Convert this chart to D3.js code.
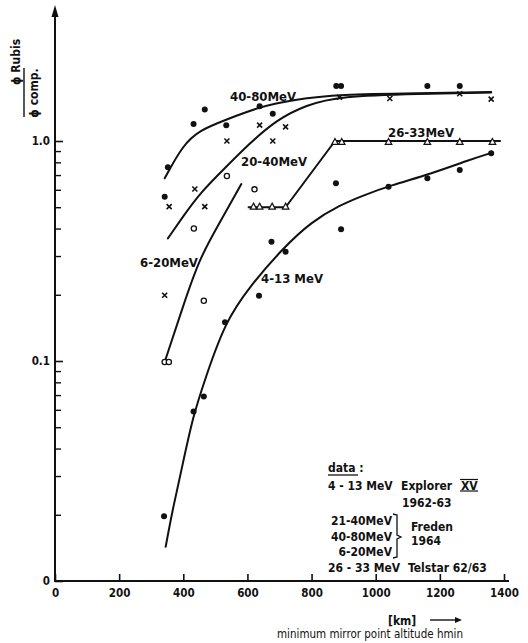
<!DOCTYPE html>
<html>
<head>
<meta charset="utf-8">
<script src="https://cdn.jsdelivr.net/npm/d3@7"></script>
<style>
  body { margin: 0; background: #fff; }
  svg text { font-family: "DejaVu Sans Condensed", "DejaVu Sans", sans-serif; fill: #111; }
</style>
</head>
<body>
<svg id="chart" width="528" height="643"></svg>
<script>
// axis ticks
let xTicks = [0, 200, 400, 600, 800, 1000, 1200, 1400];
let yTickValues = [0.01, 0.1, 1];
let yTickText = ["0", "0.1", "1.0"];

// measured points (altitude km, ratio)
let dots4080 = [[342,0.558],[352,0.76],[432,1.195],[467,1.39],[534,1.18],[638,1.44],[679,1.33],[877,1.78],[892,1.78],[1161,1.78],[1262,1.78]];
let dots413 = [[340,0.0197],[432,0.059],[464,0.069],[530,0.150],[636,0.198],[675,0.348],[719,0.314],[876,0.642],[892,0.397],[1040,0.62],[1161,0.677],[1262,0.738],[1360,0.88]];
let crosses2040 = [[342,0.199],[356,0.503],[436,0.605],[467,0.503],[536,1.0],[638,1.18],[679,1.0],[719,1.16],[887,1.58],[1044,1.56],[1262,1.64],[1360,1.55]];
let circles620 = [[342,0.099],[355,0.099],[433,0.40],[464,0.188],[536,0.693],[622,0.603]];
let triangles2633 = [[619,0.503],[638,0.503],[677,0.503],[719,0.503],[873,0.99],[894,0.99],[1040,0.99],[1161,0.99],[1262,0.99],[1364,0.99]];

// hand drawn fit curves
let curve4080 = [[342,0.677],[399,0.96],[451,1.12],[534,1.25],[638,1.43],[742,1.54],[887,1.63],[1136,1.65],[1360,1.67]];
let curve2040 = [[352,0.361],[399,0.453],[451,0.578],[534,0.764],[607,0.976],[690,1.246],[783,1.458],[887,1.6],[1136,1.64],[1360,1.66]];
let curve620 = [[342,0.099],[399,0.177],[451,0.294],[513,0.424],[581,0.637]];
let line2633 = [[601,0.5],[719,0.5],[873,1.0],[1390,1.0]];
let curve413 = [[345,0.0143],[368,0.0216],[399,0.0343],[430,0.0558],[467,0.082],[530,0.150],[607,0.218],[710,0.325],[800,0.43],[887,0.51],[960,0.565],[1042,0.625],[1177,0.713],[1291,0.82],[1360,0.882]];

let svg = d3.select('#chart');

let x = d3.scaleLinear().domain([0, 1400]).range([55, 504]);
let y = d3.scaleLog().domain([0.01, 1]).range([581, 141]);

// axes lines
svg.append("line").attr("x1", 55).attr("x2", 509).attr("y1", 581).attr("y2", 581)
  .attr("stroke", "#111").attr("stroke-width", 2);
svg.append("line").attr("x1", 55).attr("x2", 55).attr("y1", 582).attr("y2", 14)
  .attr("stroke", "#111").attr("stroke-width", 2);
svg.append("path").attr("d", "M55,5 L51.5,17 L58.5,17 Z").attr("fill", "#111");

// x axis ticks + labels
let gx = svg.append("g")
  .attr("transform", "translate(0,581)")
  .call(d3.axisBottom(x).tickValues(xTicks).tickSize(-7).tickSizeOuter(0).tickPadding(8).tickFormat(d3.format("d")));
gx.select(".domain").remove();
gx.selectAll("line").attr("stroke", "#111").attr("stroke-width", 1.6);
gx.selectAll("text").attr("font-size", 11.5).attr("font-weight", "bold");

// y minor ticks
let minor = y.ticks().filter(d => yTickValues.indexOf(d) < 0);
let gym = svg.append("g")
  .attr("transform", "translate(55,0)")
  .call(d3.axisLeft(y).tickValues(minor).tickSize(-6).tickSizeOuter(0).tickFormat(""));
gym.select(".domain").remove();
gym.selectAll("line").attr("stroke", "#111").attr("stroke-width", 1.4);

// y major ticks
let gy = svg.append("g")
  .attr("transform", "translate(55,0)")
  .call(d3.axisLeft(y).tickValues(yTickValues).tickSize(-8).tickSizeOuter(0).tickPadding(5)
    .tickFormat((d, i) => yTickText[i]));
gy.select(".domain").remove();
gy.selectAll("line").attr("stroke", "#111").attr("stroke-width", 1.6);
gy.selectAll("text").attr("font-size", 11.5).attr("font-weight", "bold");

// axis titles
let ylab = svg.append("g");
ylab.append("text").attr("transform", "translate(20,62) rotate(-90)")
  .attr("text-anchor", "middle").attr("font-size", 12).attr("font-weight", "bold")
  .text("\u03D5 Rubis");
ylab.append("line").attr("x1", 24).attr("x2", 24).attr("y1", 68).attr("y2", 117)
  .attr("stroke", "#111").attr("stroke-width", 1.4);
ylab.append("text").attr("transform", "translate(38,93) rotate(-90)")
  .attr("text-anchor", "middle").attr("font-size", 12).attr("font-weight", "bold")
  .text("\u03D5 comp.");

svg.append("text").attr("x", 388).attr("y", 625).attr("font-size", 12).attr("font-weight", "bold").text("[km]");
svg.append("line").attr("x1", 430).attr("x2", 458).attr("y1", 620).attr("y2", 620).attr("stroke", "#111").attr("stroke-width", 1.4);
svg.append("path").attr("d", "M462,620 L455,617 L455,623 Z").attr("fill", "#111");
svg.append("text").attr("x", 277).attr("y", 638).attr("font-size", 11.5).text("minimum mirror point altitude hmin");

// curves
let line = d3.line().x(d => x(d[0])).y(d => y(d[1])).curve(d3.curveBasis);
let straight = d3.line().x(d => x(d[0])).y(d => y(d[1]));
[curve4080, curve2040, curve620, curve413].forEach(function(c) {
  svg.append("path").datum(c).attr("fill", "none").attr("stroke", "#111")
    .attr("stroke-width", 2).attr("stroke-linecap", "round").attr("d", line);
});
svg.append("path").datum(line2633).attr("fill", "none").attr("stroke", "#111")
  .attr("stroke-width", 2).attr("stroke-linejoin", "round").attr("d", straight);

// markers
svg.selectAll(".dot").data(dots4080.concat(dots413)).enter().append("circle")
  .attr("cx", d => x(d[0])).attr("cy", d => y(d[1])).attr("r", 3).attr("fill", "#111");
svg.selectAll(".ring").data(circles620).enter().append("circle")
  .attr("cx", d => x(d[0])).attr("cy", d => y(d[1])).attr("r", 2.6)
  .attr("fill", "#fff").attr("stroke", "#111").attr("stroke-width", 1.3);
svg.selectAll(".cross").data(crosses2040).enter().append("path")
  .attr("transform", d => "translate(" + x(d[0]) + "," + y(d[1]) + ")")
  .attr("d", "M-2.5,-2.5 L2.5,2.5 M2.5,-2.5 L-2.5,2.5")
  .attr("stroke", "#111").attr("stroke-width", 1.6);
svg.selectAll(".tri").data(triangles2633).enter().append("path")
  .attr("transform", d => "translate(" + x(d[0]) + "," + y(d[1]) + ")")
  .attr("d", "M0,-3.5 L3.3,2.5 L-3.3,2.5 Z")
  .attr("fill", "#fff").attr("stroke", "#111").attr("stroke-width", 1.2);

// curve labels
let labels = [
  ["40-80MeV", 230, 101], ["20-40MeV", 241, 166], ["26-33MeV", 388, 137],
  ["6-20MeV", 140, 267], ["4-13 MeV", 261, 283]
];
labels.forEach(function(l) {
  svg.append("text").attr("x", l[1]).attr("y", l[2]).attr("font-size", 13)
    .attr("font-weight", "bold").text(l[0]);
});

// data legend
let lg = svg.append("g").attr("font-size", 12).attr("font-weight", "bold");
lg.append("text").attr("x", 328).attr("y", 472).text("data :");
lg.append("line").attr("x1", 328).attr("x2", 358).attr("y1", 475).attr("y2", 475).attr("stroke", "#111").attr("stroke-width", 1.3);
lg.append("text").attr("x", 328).attr("y", 490).text("4 - 13 MeV");
lg.append("text").attr("x", 401).attr("y", 490).text("Explorer");
lg.append("text").attr("x", 461).attr("y", 490).attr("font-family", "DejaVu Serif").text("XV");
lg.append("line").attr("x1", 460).attr("x2", 478).attr("y1", 479.5).attr("y2", 479.5).attr("stroke", "#111").attr("stroke-width", 1.2);
lg.append("line").attr("x1", 460).attr("x2", 478).attr("y1", 491).attr("y2", 491).attr("stroke", "#111").attr("stroke-width", 1.2);
lg.append("text").attr("x", 402).attr("y", 507).text("1962-63");
lg.append("text").attr("x", 392).attr("y", 525).attr("text-anchor", "end").text("21-40MeV");
lg.append("text").attr("x", 392).attr("y", 541).attr("text-anchor", "end").text("40-80MeV");
lg.append("text").attr("x", 392).attr("y", 556).attr("text-anchor", "end").text("6-20MeV");
lg.append("path").attr("d", "M393,514 L397,515 L397,535 L401,537 L397,539 L397,557 L393,558")
  .attr("fill", "none").attr("stroke", "#111").attr("stroke-width", 1.3);
lg.append("text").attr("x", 411).attr("y", 531).text("Freden");
lg.append("text").attr("x", 411).attr("y", 545).text("1964");
lg.append("text").attr("x", 328).attr("y", 572).text("26 - 33 MeV");
lg.append("text").attr("x", 408).attr("y", 572).text("Telstar 62/63");
</script>
</body>
</html>
